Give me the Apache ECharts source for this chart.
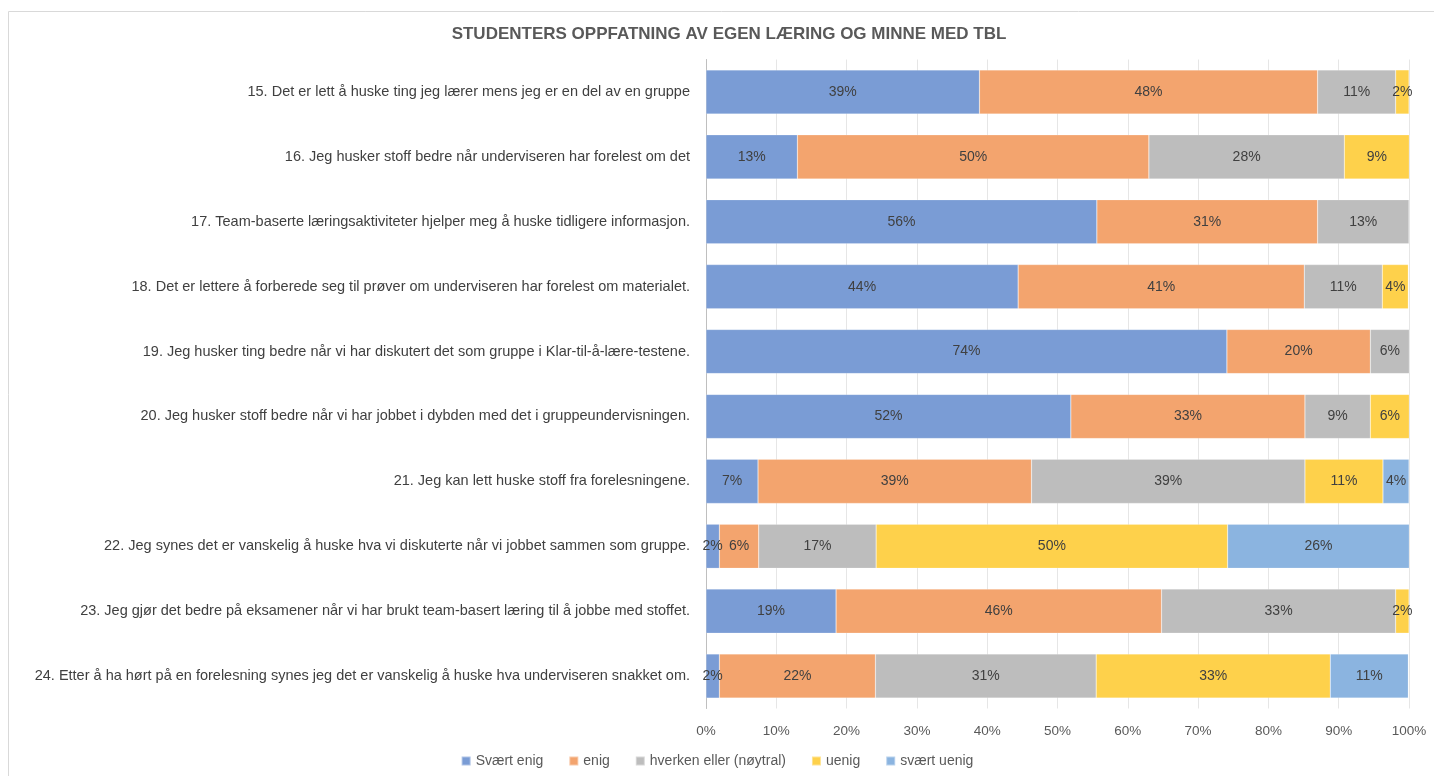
<!DOCTYPE html>
<html>
<head>
<meta charset="utf-8">
<script src="https://cdn.jsdelivr.net/npm/echarts@6/dist/echarts.min.js"></script>
<style>html,body{margin:0;padding:0;background:#fff}#c{width:1434px;height:776px}</style>
</head>
<body>
<div id="c"></div>
<script>
const categories = [
  "15. Det er lett å huske ting jeg lærer mens jeg er en del av en gruppe",
  "16. Jeg husker stoff bedre når underviseren har forelest om det",
  "17. Team-baserte læringsaktiviteter hjelper meg å huske tidligere informasjon.",
  "18. Det er lettere å forberede seg til prøver om underviseren har forelest om materialet.",
  "19. Jeg husker ting bedre når vi har diskutert det som gruppe i Klar-til-å-lære-testene.",
  "20. Jeg husker stoff bedre når vi har jobbet i dybden med det i gruppeundervisningen.",
  "21. Jeg kan lett huske stoff fra forelesningene.",
  "22. Jeg synes det er vanskelig å huske hva vi diskuterte når vi jobbet sammen som gruppe.",
  "23. Jeg gjør det bedre på eksamener når vi har brukt team-basert læring til å jobbe med stoffet.",
  "24. Etter å ha hørt på en forelesning synes jeg det er vanskelig å huske hva underviseren snakket om."
];
const seriesNames = ["Svært enig", "enig", "hverken eller (nøytral)", "uenig", "svært uenig"];
const sveartEnig = [38.9, 13.0, 55.6, 44.4, 74.1, 51.9, 7.4, 1.9, 18.5, 1.9];
const enig       = [48.1, 50.0, 31.4, 40.7, 20.4, 33.3, 38.9, 5.6, 46.3, 22.2];
const noytral    = [11.1, 27.8, 13.0, 11.1, 5.6, 9.3, 38.9, 16.7, 33.3, 31.4];
const uenig      = [1.9, 9.3, 0, 3.7, 0, 5.6, 11.1, 50.0, 1.9, 33.3];
const svaertUenig= [0, 0, 0, 0, 0, 0, 3.7, 25.9, 0, 11.1];
const xTicks = [0, 10, 20, 30, 40, 50, 60, 70, 80, 90, 100];

const colors = ["#7A9CD5", "#F3A46E", "#BDBDBD", "#FED14B", "#8BB4E0"];
const seriesData = [sveartEnig, enig, noytral, uenig, svaertUenig];
const FONT = "Liberation Sans";

const chart = echarts.init(document.getElementById('c'), null, {renderer: 'canvas'});
chart.setOption({
  animation: false,
  textStyle: {fontFamily: FONT},
  title: {
    text: "STUDENTERS OPPFATNING AV EGEN LÆRING OG MINNE MED TBL",
    left: 724, textAlign: 'center', top: 21,
    textStyle: {fontFamily: FONT, fontSize: 17, fontWeight: 'bold', color: '#595959'}
  },
  graphic: [{
    type: 'rect', shape: {x: 8.5, y: 11.5, width: 1440, height: 800},
    style: {fill: 'none', stroke: '#d9d9d9', lineWidth: 1}, silent: true, z: -1
  }],
  legend: {
    data: seriesNames,
    left: 'center', top: 749,
    icon: 'rect', itemWidth: 9, itemHeight: 9, itemGap: 25, itemTextGap: 4,
    textStyle: {fontFamily: FONT, fontSize: 14, color: '#595959'}
  },
  grid: {left: 706, right: 25, top: 59.5, bottom: 67.5, containLabel: false},
  xAxis: {
    type: 'value', min: 0, max: 100, interval: 10,
    axisLabel: {formatter: v => xTicks.includes(v) ? v + '%' : '', color: '#595959', fontSize: 13.5, margin: 16},
    axisLine: {show: false}, axisTick: {show: false},
    splitLine: {show: true, lineStyle: {color: '#e6e6e6', width: 1}}
  },
  yAxis: {
    type: 'category', data: categories, inverse: true,
    axisLabel: {color: '#404040', fontSize: 14.5, margin: 16},
    axisLine: {show: true, lineStyle: {color: '#bfbfbf'}},
    axisTick: {show: false}
  },
  series: seriesNames.map((name, i) => ({
    name, type: 'bar', stack: 'total',
    barCategoryGap: '32%',
    data: seriesData[i].map(v => v === 0 ? null : v),
    itemStyle: {color: colors[i], borderColor: 'rgba(255,255,255,0.4)', borderWidth: 0.5},
    label: {
      show: true, position: 'inside', color: '#404040', fontSize: 14,
      formatter: p => p.value ? Math.round(p.value) + '%' : ''
    }
  }))
});
</script>
</body>
</html>
